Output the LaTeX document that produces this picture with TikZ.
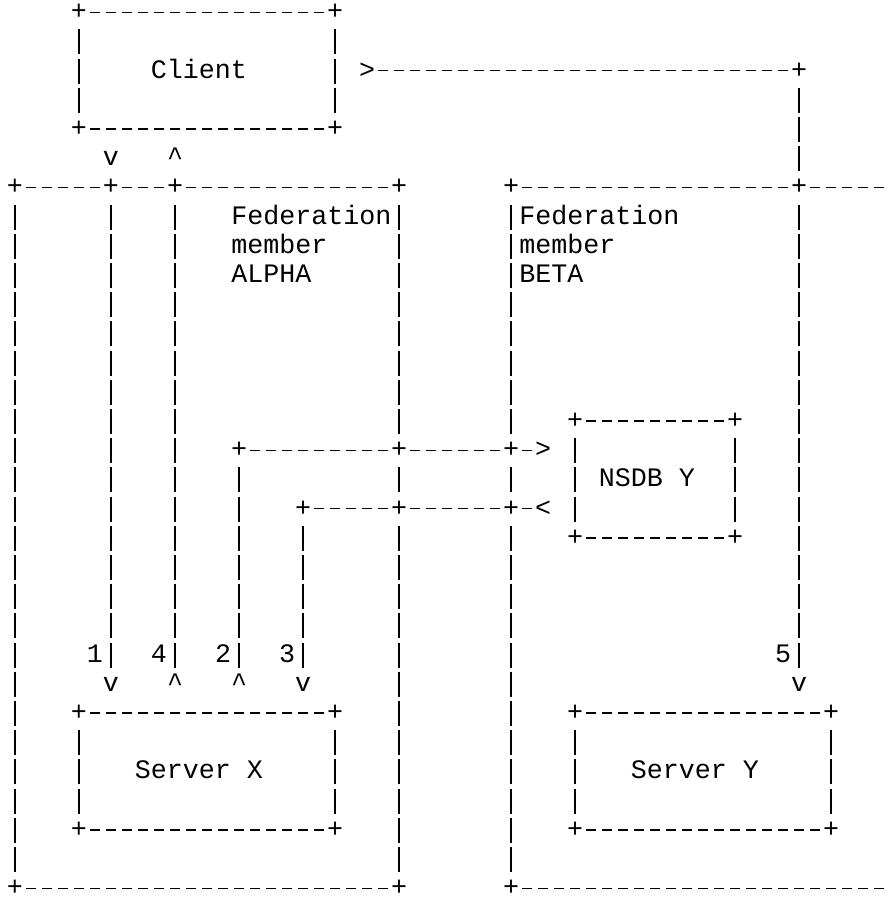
\documentclass[tikz,border=0pt]{standalone}
\usepackage{fontspec}
\usepackage{tikz}
\newfontfamily\asciifont{Liberation Mono}

\begin{document}
\begin{tikzpicture}[x=0.75pt,y=0.75pt,yscale=-1,xscale=1,
  chr/.style={font=\asciifont\fontsize{20}{22}\selectfont, inner sep=0pt, text height=11pt, text depth=0pt},
  hline/.style={line width=1pt, dash pattern=on 7.5pt off 4.5pt, dash phase=9.75pt},
  vline/.style={line width=1pt, shorten <=5.475pt, shorten >=5.475pt, dash pattern=on 18.75pt off 3.15pt, dash phase=20.325pt}]
\useasboundingbox (0,0) rectangle (891,897);

%Shape: Client box
\node[chr] (cl-tl) at (79,12.3) {+};
\node[chr] (cl-tr) at (335,12.3) {+};
\node[chr] (cl-bl) at (79,129.1) {+};
\node[chr] (cl-br) at (335,129.1) {+};
\draw[hline] (cl-tl) -- (cl-tr);
\draw[hline] (cl-bl) -- (cl-br);
\draw[vline] (cl-tl) -- (cl-bl);
\draw[vline] (cl-tr) -- (cl-br);
% Text Node
\node[chr] (client) at (199,70.7) {Client};
\node[chr] (dn1) at (111,158.3) {v};
\node[chr] (up4) at (175,158.3) {\textasciicircum};

%Shape: Federation member ALPHA
\node[chr] (a-tl) at (15,187.5) {+};
\node[chr] (a-t1) at (111,187.5) {+};
\node[chr] (a-t4) at (175,187.5) {+};
\node[chr] (a-tr) at (399,187.5) {+};
\node[chr] (a-x2) at (399,450.3) {+};
\node[chr] (a-x3) at (399,508.7) {+};
\node[chr] (a-br) at (399,888.3) {+};
\node[chr] (a-bl) at (15,888.3) {+};
\draw[hline] (a-tl) -- (a-t1);
\draw[hline] (a-t1) -- (a-t4);
\draw[hline] (a-t4) -- (a-tr);
\draw[hline] (a-bl) -- (a-br);
\draw[vline] (a-tl) -- (a-bl);
\draw[vline] (a-tr) -- (a-x2);
\draw[vline] (a-x2) -- (a-x3);
\draw[vline] (a-x3) -- (a-br);
% Text Node
\node[chr, anchor=west] (alpha1) at (231,216.7) {Federation};
\node[chr, anchor=west] (alpha2) at (231,245.9) {member};
\node[chr, anchor=west] (alpha3) at (231,275.1) {ALPHA};

%Shape: Federation member BETA
\node[chr] (b-tl) at (511,187.5) {+};
\node[chr] (b-t5) at (799,187.5) {+};
\coordinate (b-te) at (887,187.5);
\node[chr] (b-x2) at (511,450.3) {+};
\node[chr] (b-x3) at (511,508.7) {+};
\node[chr] (b-bl) at (511,888.3) {+};
\coordinate (b-be) at (887,888.3);
\draw[hline] (b-tl) -- (b-t5);
\draw[hline] (b-t5) -- (b-te);
\draw[hline] (b-bl) -- (b-be);
\draw[vline] (b-tl) -- (b-x2);
\draw[vline] (b-x2) -- (b-x3);
\draw[vline] (b-x3) -- (b-bl);
% Text Node
\node[chr, anchor=west] (beta1) at (519,216.7) {Federation};
\node[chr, anchor=west] (beta2) at (519,245.9) {member};
\node[chr, anchor=west] (beta3) at (519,275.1) {BETA};

%Shape: NSDB Y box
\node[chr] (n-tl) at (575,421.1) {+};
\node[chr] (n-tr) at (735,421.1) {+};
\node[chr] (n-bl) at (575,537.9) {+};
\node[chr] (n-br) at (735,537.9) {+};
\draw[hline] (n-tl) -- (n-tr);
\draw[hline] (n-bl) -- (n-br);
\draw[vline] (n-tl) -- (n-bl);
\draw[vline] (n-tr) -- (n-br);
% Text Node
\node[chr] (nsdb) at (647,479.5) {NSDB Y};

%Shape: Server X box
\node[chr] (x-tl) at (79,713.1) {+};
\node[chr] (x-tr) at (335,713.1) {+};
\node[chr] (x-bl) at (79,829.9) {+};
\node[chr] (x-br) at (335,829.9) {+};
\draw[hline] (x-tl) -- (x-tr);
\draw[hline] (x-bl) -- (x-br);
\draw[vline] (x-tl) -- (x-bl);
\draw[vline] (x-tr) -- (x-br);
% Text Node
\node[chr] (srvx) at (199,771.5) {Server X};

%Shape: Server Y box
\node[chr] (y-tl) at (575,713.1) {+};
\node[chr] (y-tr) at (831,713.1) {+};
\node[chr] (y-bl) at (575,829.9) {+};
\node[chr] (y-br) at (831,829.9) {+};
\draw[hline] (y-tl) -- (y-tr);
\draw[hline] (y-bl) -- (y-br);
\draw[vline] (y-tl) -- (y-bl);
\draw[vline] (y-tr) -- (y-br);
% Text Node
\node[chr] (srvy) at (695,771.5) {Server Y};

%Straight Lines: 1 and 4, client <-> server X
\node[chr] (x1) at (111,683.9) {v};
\node[chr] (x4) at (175,683.9) {\textasciicircum};
\draw[vline] (a-t1) -- (x1);
\draw[vline] (a-t4) -- (x4);

%Straight Lines: 2 and 3, server X <-> NSDB Y
\node[chr] (q2) at (239,450.3) {+};
\node[chr] (q3) at (303,508.7) {+};
\node[chr] (x2) at (239,683.9) {\textasciicircum};
\node[chr] (x3) at (303,683.9) {v};
\node[chr] (n-in) at (543,450.3) {>};
\node[chr] (n-out) at (543,508.7) {<};
\draw[vline] (q2) -- (x2);
\draw[vline] (q3) -- (x3);
\draw[hline] (q2) -- (a-x2);
\draw[hline] (a-x2) -- (b-x2);
\draw[hline] (b-x2) -- (n-in);
\draw[hline] (q3) -- (a-x3);
\draw[hline] (a-x3) -- (b-x3);
\draw[hline] (b-x3) -- (n-out);

%Straight Lines: 5, client -> server Y
\node[chr] (cl-out) at (367,70.7) {>};
\node[chr] (c5) at (799,70.7) {+};
\node[chr] (x5) at (799,683.9) {v};
\draw[hline] (cl-out) -- (c5);
\draw[vline] (c5) -- (b-t5);
\draw[vline] (b-t5) -- (x5);

% Text Node
\node[chr] (l1) at (95,654.7) {1};
\node[chr] (l4) at (159,654.7) {4};
\node[chr] (l2) at (223,654.7) {2};
\node[chr] (l3) at (287,654.7) {3};
\node[chr] (l5) at (783,654.7) {5};

\end{tikzpicture}
\end{document}
